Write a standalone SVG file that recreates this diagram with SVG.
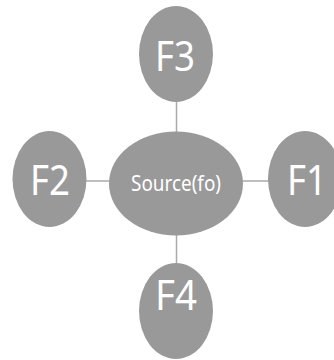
<svg xmlns="http://www.w3.org/2000/svg" width="334" height="360" viewBox="0 0 334 360">
<style>
.n{fill:#999999}
.t{fill:#ffffff;font-family:"Noto Sans","Open Sans",sans-serif;text-anchor:middle}
.big{font-size:42px}
.small{font-size:21px}
.c{stroke:#aaaaaa;stroke-width:1.5;fill:none}
</style>
<rect width="334" height="360" fill="#ffffff"/>
<g id="connectors">
<line class="c" x1="176.5" y1="102" x2="176.5" y2="133"/>
<line class="c" x1="176.5" y1="235" x2="176.5" y2="263"/>
<line class="c" x1="86" y1="181" x2="110" y2="181"/>
<line class="c" x1="242" y1="181" x2="269" y2="181"/>
</g>
<g id="source">
<ellipse class="n" cx="176" cy="183.5" rx="67" ry="52"/>
<text class="t small" x="176" y="191" textLength="90" lengthAdjust="spacingAndGlyphs">Source(fo)</text>
</g>
<g id="F3">
<ellipse class="n" cx="176" cy="54" rx="37" ry="48"/>
<text class="t big" x="175" y="71" textLength="40" lengthAdjust="spacingAndGlyphs">F3</text>
</g>
<g id="F2">
<ellipse class="n" cx="49.5" cy="179" rx="37" ry="48"/>
<text class="t big" x="50" y="195" textLength="40" lengthAdjust="spacingAndGlyphs">F2</text>
</g>
<g id="F1">
<ellipse class="n" cx="305" cy="179" rx="37" ry="48"/>
<text class="t big" x="307" y="195" textLength="40" lengthAdjust="spacingAndGlyphs">F1</text>
</g>
<g id="F4">
<ellipse class="n" cx="176" cy="311" rx="37" ry="48"/>
<text class="t big" x="176" y="310" textLength="42" lengthAdjust="spacingAndGlyphs">F4</text>
</g>
</svg>
